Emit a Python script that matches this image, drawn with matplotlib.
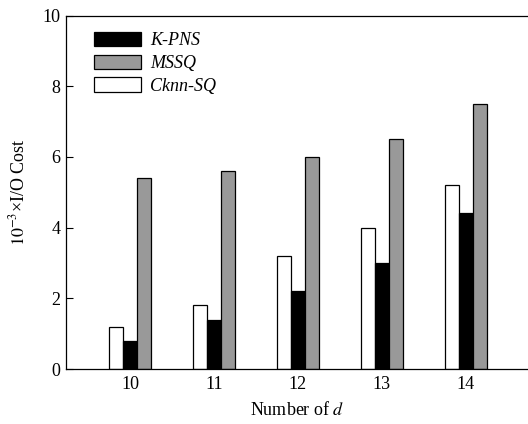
import numpy as np
import matplotlib
matplotlib.use('Agg')
import matplotlib.pyplot as plt

# data
d_values = ['10', '11', '12', '13', '14']
cknn_sq = [1.2, 1.8, 3.2, 4.0, 5.2]
k_pns = [0.8, 1.4, 2.2, 3.0, 4.4]
mssq = [5.4, 5.6, 6.0, 6.5, 7.5]

plt.rcParams['font.family'] = 'Liberation Serif'
plt.rcParams['mathtext.fontset'] = 'stix'
plt.rcParams['font.size'] = 11

fig = plt.figure(figsize=(5.28, 4.24), dpi=100)
ax = fig.add_axes([66/528, (424-369)/424, 1 - 66/528, (369-15.5)/424])

x = np.arange(len(d_values))
w = 0.167
b_white = ax.bar(x - w, cknn_sq, w, color='white', edgecolor='black', linewidth=0.9)
b_black = ax.bar(x, k_pns, w, color='black', edgecolor='black', linewidth=0.9)
b_gray = ax.bar(x + w, mssq, w, color='#999999', edgecolor='black', linewidth=0.9)

ax.set_xlim(-0.762, 4.74)
ax.set_ylim(0, 10)
ax.set_yticks([0, 2, 4, 6, 8, 10])
ax.set_xticks(x)
ax.set_xticklabels(d_values)
ax.tick_params(axis='y', direction='in', length=5, width=0.8, labelsize=13, pad=4)
ax.tick_params(axis='x', length=0, labelsize=13, pad=5)
ax.spines['right'].set_visible(False)
for s in ['left', 'top', 'bottom']:
    ax.spines[s].set_linewidth(0.9)

ax.set_xlabel('Number of $\\mathit{d}$', fontsize=13, labelpad=6)
ax.set_ylabel('$10^{-3}$×I/O Cost', fontsize=13, labelpad=10)

leg = ax.legend([b_black, b_gray, b_white], ['K-PNS', 'MSSQ', 'Cknn-SQ'],
                loc='upper left', bbox_to_anchor=(0.025, 1.0), frameon=False,
                prop={'style': 'italic', 'size': 13}, handlelength=2.6,
                handleheight=0.85, labelspacing=0.3, handletextpad=0.5)

plt.savefig('out.png', dpi=100)
